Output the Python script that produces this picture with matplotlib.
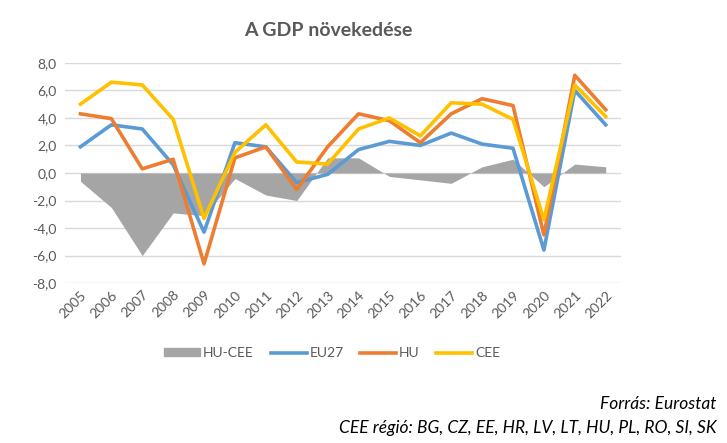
import numpy as np
import matplotlib.pyplot as plt
from matplotlib.ticker import FuncFormatter
from matplotlib.patches import Patch
from matplotlib.lines import Line2D

years = [str(y) for y in range(2005, 2023)]
eu27 = [1.9, 3.5, 3.2, 0.6, -4.3, 2.2, 1.9, -0.7, -0.1, 1.7, 2.3, 2.0, 2.9, 2.1, 1.8, -5.6, 6.0, 3.5]
hu = [4.3, 3.95, 0.3, 1.0, -6.6, 1.1, 1.9, -1.2, 1.9, 4.3, 3.8, 2.2, 4.3, 5.4, 4.9, -4.5, 7.1, 4.6]
cee = [5.0, 6.6, 6.4, 3.9, -3.3, 1.5, 3.5, 0.8, 0.65, 3.2, 4.0, 2.7, 5.1, 5.0, 3.9, -3.4, 6.4, 4.1]
hu_cee = [-0.6, -2.5, -6.0, -2.9, -3.1, -0.4, -1.6, -2.0, 1.1, 1.1, -0.25, -0.5, -0.75, 0.45, 1.0, -1.0, 0.65, 0.45]

plt.rcParams['font.family'] = ['Lato', 'DejaVu Sans']

fig = plt.figure(figsize=(7.27, 4.43), dpi=100)
ax = fig.add_axes([0.0894, 0.361, 0.765, 0.497])

x = np.arange(len(years))
ax.fill_between(x, 0, hu_cee, color='#A5A5A5', lw=0, zorder=2)
ax.plot(x, eu27, color='#5B9BD5', lw=2.6, zorder=3, solid_joinstyle='round')
ax.plot(x, hu, color='#ED7D31', lw=2.6, zorder=4, solid_joinstyle='round')
ax.plot(x, cee, color='#FFC000', lw=2.6, zorder=5, solid_joinstyle='round')

ax.set_xlim(-0.5, len(years) - 0.5)
ax.set_ylim(-8, 8)
ax.set_yticks(np.arange(-8, 9, 2))
ax.yaxis.set_major_formatter(FuncFormatter(lambda v, p: f'{v:.1f}'.replace('.', ',')))
ax.set_xticks(x)
ax.set_xticklabels(years, rotation=45, ha='right', rotation_mode='anchor')
ax.grid(axis='y', color='#D9D9D9', lw=1, zorder=0)
for s in ax.spines.values():
    s.set_visible(False)
ax.tick_params(length=0, labelsize=10, colors='#595959', pad=6)
ax.tick_params(axis='x', pad=4)

fig.text(0.452, 0.932, 'A GDP növekedése', ha='center', va='center',
         fontsize=14, fontweight='bold', color='#595959')

handles = [Patch(color='#A5A5A5'),
           Line2D([0], [0], color='#5B9BD5', lw=2.6),
           Line2D([0], [0], color='#ED7D31', lw=2.6),
           Line2D([0], [0], color='#FFC000', lw=2.6)]
fig.legend(handles, ['HU-CEE', 'EU27', 'HU', 'CEE'], loc='center',
           bbox_to_anchor=(0.457, 0.203), ncol=4, frameon=False, fontsize=10,
           handlelength=2.6, handleheight=0.5, handletextpad=0.2, columnspacing=1.2,
           labelcolor='#595959')

fig.text(0.986, 0.087, 'Forrás: Eurostat', ha='right', va='center',
         fontsize=12.5, style='italic', color='black')
fig.text(0.986, 0.034, 'CEE régió: BG, CZ, EE, HR, LV, LT, HU, PL, RO, SI, SK',
         ha='right', va='center', fontsize=12.5, style='italic', color='black')

fig.savefig('out.png', dpi=100)
